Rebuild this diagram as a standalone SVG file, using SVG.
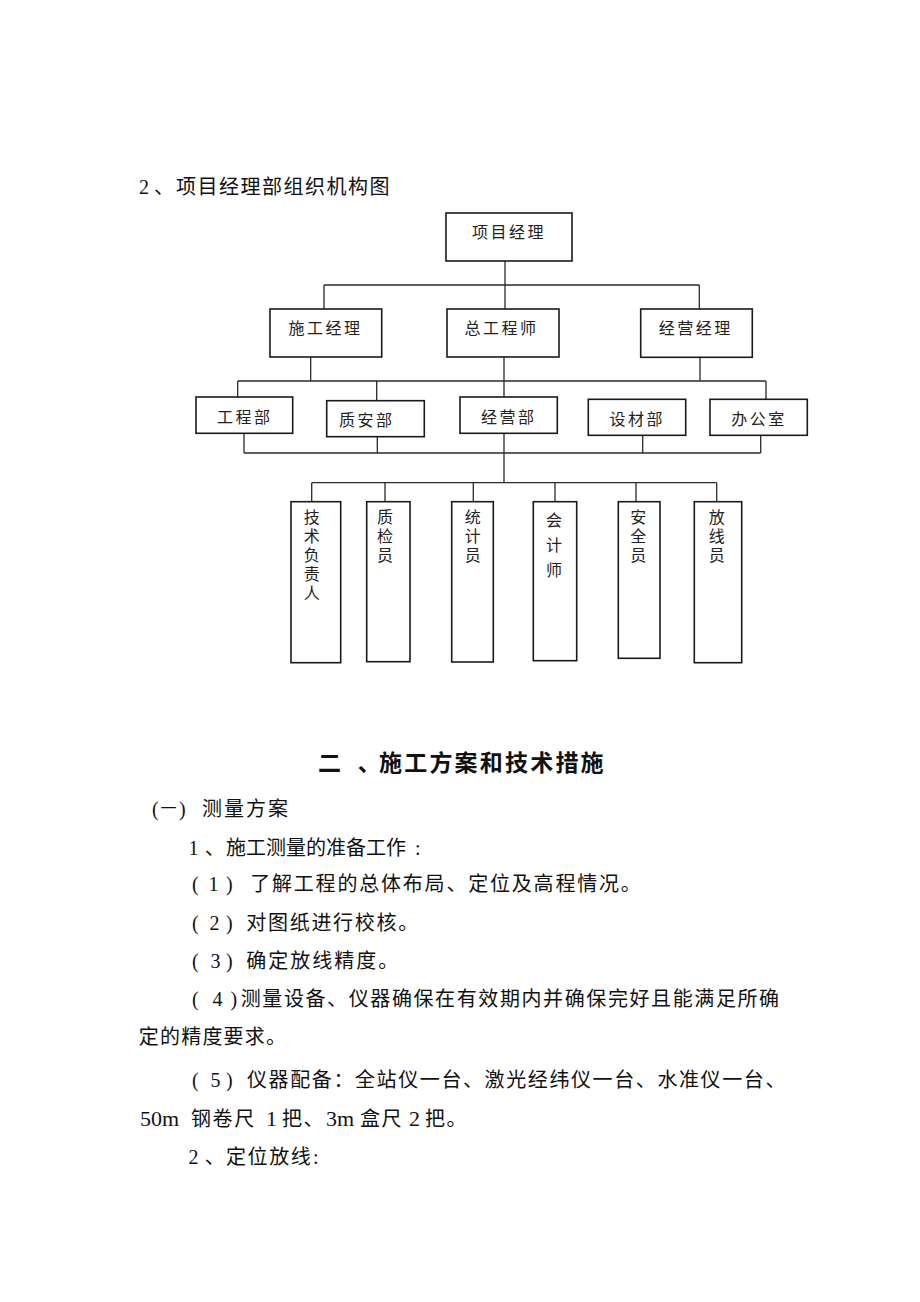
<svg xmlns="http://www.w3.org/2000/svg" width="920" height="1302" viewBox="0 0 920 1302">
<style>
.bg{fill:#ffffff}
.box{fill:#ffffff;stroke:#1a1a1a;stroke-width:1.6}
.ln{fill:none;stroke:#2a2a2a;stroke-width:1.3}
.lb{font-family:"Noto Sans CJK SC","Noto Sans",sans-serif;font-size:16px;fill:#222;letter-spacing:2.5px}
.vt{font-family:"Noto Sans CJK SC","Noto Sans",sans-serif;font-size:16px;fill:#222;writing-mode:vertical-rl;letter-spacing:3px}
.bd{font-family:"Noto Sans CJK SC","Noto Sans",sans-serif;font-size:20px;fill:#111;letter-spacing:1.6px}
.lt{font-family:"Liberation Serif","Times New Roman",serif;font-size:20px;fill:#111}
.tt{font-family:"Noto Sans CJK SC","Noto Sans",sans-serif;font-size:23px;font-weight:700;fill:#111}
</style>
<rect class="bg" x="0" y="0" width="920" height="1302"/>

<g id="heading">
<text class="lt" x="139" y="194">2</text>
<text class="bd" x="154" y="194" style="letter-spacing:0">、</text>
<text class="bd" x="176" y="194" style="letter-spacing:1.5px">项目经理部组织机构图</text>
</g>

<g id="connectors">
<path class="ln" d="M505 261V309M324 285H699.3M324 285V309M699.3 285V309"/>
<path class="ln" d="M310.7 357V381M504 357V397M700 357V381M237.7 381H766M237.7 381V397M376.7 381V400.7M766 381V399.3"/>
<path class="ln" d="M244 433.3V453M377.3 436.7V453M642.7 435.3V453M760.7 435.3V453M244 453H760.7M504 433.3V482.7"/>
<path class="ln" d="M311.7 482.7H716.7M311.7 482.7V501.7M385 482.7V501.7M473.3 482.7V501.7M555 482.7V501.7M636 482.7V501.7M716.7 482.7V501.7"/>
</g>

<g id="n-xmjl"><rect class="box" x="446" y="213" width="126" height="48"/><text class="lb" x="472" y="237.5">项目经理</text></g>
<g id="n-sgjl"><rect class="box" x="270" y="309" width="111.7" height="48"/><text class="lb" x="288.5" y="334.3">施工经理</text></g>
<g id="n-zgcs"><rect class="box" x="447" y="309" width="112" height="48"/><text class="lb" x="464.5" y="334.3">总工程师</text></g>
<g id="n-jyjl"><rect class="box" x="640.7" y="309" width="111.6" height="48.3"/><text class="lb" x="658.8" y="334">经营经理</text></g>

<g id="n-gcb"><rect class="box" x="196" y="397" width="96.7" height="36.3"/><text class="lb" x="217" y="422.7">工程部</text></g>
<g id="n-zab"><rect class="box" x="326.7" y="400.7" width="97.6" height="36"/><text class="lb" x="339" y="425.5">质安部</text></g>
<g id="n-jyb"><rect class="box" x="460" y="397" width="97.3" height="36.3"/><text class="lb" x="481" y="422.5">经营部</text></g>
<g id="n-scb"><rect class="box" x="588.3" y="399.3" width="97.4" height="36"/><text class="lb" x="609.5" y="425">设材部</text></g>
<g id="n-bgs"><rect class="box" x="710" y="399.3" width="97.3" height="36"/><text class="lb" x="731.2" y="425">办公室</text></g>

<g id="n-jsfzr"><rect class="box" x="291" y="501.7" width="49.7" height="161"/>
<text class="vt" x="311.7" y="508.7">技术负责人</text></g>
<g id="n-zjy"><rect class="box" x="366.7" y="501.7" width="43.3" height="160"/>
<text class="vt" x="385" y="508.7">质检员</text></g>
<g id="n-tjy"><rect class="box" x="451.7" y="501.7" width="41.6" height="160.3"/>
<text class="vt" x="472.7" y="508.7">统计员</text></g>
<g id="n-kjs"><rect class="box" x="533.3" y="501.7" width="43.4" height="159"/>
<text class="vt" x="554" y="512" style="letter-spacing:9px">会计师</text></g>
<g id="n-aqy"><rect class="box" x="618.3" y="501.7" width="41.7" height="156.6"/>
<text class="vt" x="638.3" y="508.7">安全员</text></g>
<g id="n-fxy"><rect class="box" x="694.3" y="501.7" width="47.4" height="161"/>
<text class="vt" x="716.7" y="508.7">放线员</text></g>

<g id="body">
<text class="tt" x="318" y="771.4">二</text>
<text class="tt" x="357.8" y="771.4">、</text>
<text class="tt" x="379" y="771.4" style="letter-spacing:2.2px">施工方案和技术措施</text>

<text class="lt" x="152" y="816">(</text>
<text class="bd" x="160.5" y="814" style="font-size:16px;letter-spacing:0">一</text>
<text class="lt" x="179" y="816">)</text>
<text class="bd" x="202" y="816" style="letter-spacing:2px">测量方案</text>

<text class="lt" x="188.5" y="855">1</text>
<text class="bd" x="204.7" y="855" style="letter-spacing:0">、</text>
<text class="bd" x="226" y="855" style="letter-spacing:0">施工测量的准备工作</text>
<text class="lt" x="415" y="855">:</text>

<text class="lt" x="192" y="891">(</text><text class="lt" x="208.5" y="891">1</text><text class="lt" x="226" y="891">)</text>
<text class="bd" x="250.2" y="891" style="letter-spacing:1.8px">了解工程的总体布局、定位及高程情况。</text>

<text class="lt" x="192" y="930">(</text><text class="lt" x="209.5" y="930">2</text><text class="lt" x="226" y="930">)</text>
<text class="bd" x="246.3" y="930" style="letter-spacing:1.7px">对图纸进行校核。</text>

<text class="lt" x="192" y="968">(</text><text class="lt" x="210.5" y="968">3</text><text class="lt" x="226" y="968">)</text>
<text class="bd" x="246.3" y="968" style="letter-spacing:2px">确定放线精度。</text>

<text class="lt" x="192" y="1005.6">(</text><text class="lt" x="212.5" y="1005.6">4</text><text class="lt" x="230.5" y="1005.6">)</text>
<text class="bd" x="240.7" y="1005.6">测量设备、仪器确保在有效期内并确保完好且能满足所确</text>

<text class="bd" x="138.8" y="1044" style="letter-spacing:1.2px">定的精度要求。</text>

<text class="lt" x="192" y="1086.5">(</text><text class="lt" x="210.5" y="1086.5">5</text><text class="lt" x="226" y="1086.5">)</text>
<text class="bd" x="247" y="1086.5">仪器配备：全站仪一台、激光经纬仪一台、水准仪一台、</text>

<text class="lt" x="140" y="1125.5" style="font-size:22px">50m</text>
<text class="bd" x="191" y="1125.5">钢卷尺</text>
<text class="lt" x="266" y="1125.5" style="font-size:22px">1</text>
<text class="bd" x="282" y="1125.5">把、</text>
<text class="lt" x="326" y="1125.5" style="font-size:22px">3m</text>
<text class="bd" x="360" y="1125.5">盒尺</text>
<text class="lt" x="409" y="1125.5" style="font-size:22px">2</text>
<text class="bd" x="425" y="1125.5">把。</text>

<text class="lt" x="188.5" y="1163.5">2</text>
<text class="bd" x="204.7" y="1163.5" style="letter-spacing:0">、</text>
<text class="bd" x="226" y="1163.5" style="letter-spacing:1.6px">定位放线</text>
<text class="lt" x="313" y="1163.5">:</text>
</g>
</svg>
